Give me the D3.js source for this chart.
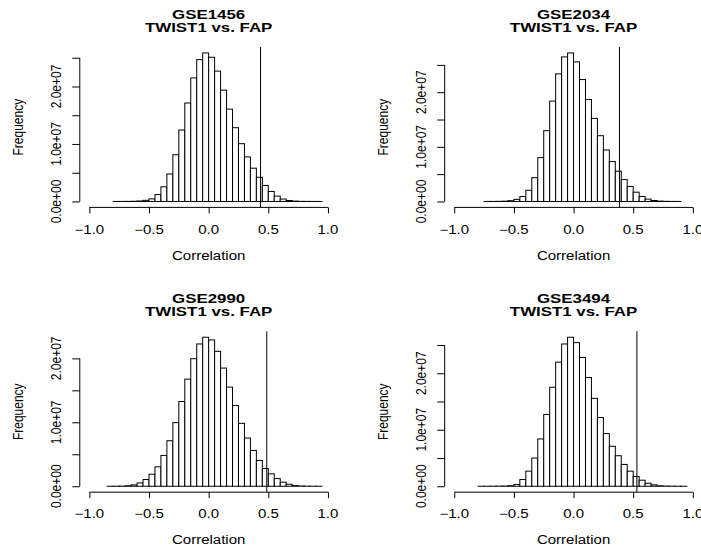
<!DOCTYPE html>
<html><head><meta charset="utf-8">
<script src="https://cdn.jsdelivr.net/npm/d3@7"></script>
<style>html,body{margin:0;padding:0;background:#fff;} svg{display:block;}</style>
</head><body>
<svg id="chart" width="701" height="548"></svg>
<script>
// ---------- data ----------
const datasets = ["GSE1456", "GSE2034", "GSE2990", "GSE3494"];
const subtitle = "TWIST1 vs. FAP";
const xLabel = "Correlation";
const yLabel = "Frequency";
const binWidth = 0.05;
const firstBreak = [-0.8, -0.75, -0.85, -0.8];
const unit = 1e6; // counts below are in millions
const counts1456 = [0.002, 0.004, 0.01, 0.03, 0.08, 0.2, 0.45, 1.2, 2.55, 4.78, 8.13, 12.43, 17.13, 21.49, 24.68, 25.84, 25.09, 22.68, 19.37, 16.06, 12.83, 10.05, 7.75, 5.79, 4.21, 2.79, 1.74, 0.93, 0.42, 0.17, 0.06, 0.02, 0.008, 0.003, 0.001];
const counts2034 = [0.002, 0.005, 0.02, 0.05, 0.14, 0.38, 0.91, 2.05, 4.35, 8.03, 12.96, 18.37, 23.36, 26.46, 27.19, 25.55, 22.32, 18.67, 15.21, 12.04, 9.43, 7.30, 5.54, 4.01, 2.74, 1.70, 0.91, 0.43, 0.18, 0.06, 0.02, 0.006, 0.002];
const counts2990 = [0.003, 0.008, 0.02, 0.08, 0.21, 0.52, 1.05, 1.88, 3.04, 4.82, 7.12, 9.95, 13.25, 16.75, 19.95, 22.25, 23.30, 22.88, 21.10, 18.48, 15.50, 12.62, 9.84, 7.54, 5.60, 4.03, 2.77, 1.94, 1.20, 0.63, 0.31, 0.10, 0.04, 0.015, 0.005, 0.002];
const counts3494 = [0.001, 0.003, 0.006, 0.015, 0.04, 0.1, 0.30, 1.19, 2.67, 4.99, 8.37, 12.71, 17.52, 21.97, 25.18, 26.37, 25.42, 22.80, 19.24, 15.56, 12.17, 9.32, 7.07, 5.40, 3.86, 2.67, 1.72, 1.07, 0.53, 0.24, 0.08, 0.03, 0.01, 0.004, 0.001];
const observed = [0.435, 0.385, 0.487, 0.531];
const xTicks = [-1, -0.5, 0, 0.5, 1];
const xTickLabels = ["\u22121.0", "\u22120.5", "0.0", "0.5", "1.0"];
const yTicks = [0, 5e6, 1e7, 1.5e7, 2e7, 2.5e7];
const yTickLabels = ["0.0e+00", "", "1.0e+07", "", "2.0e+07", ""];

const allCounts = [counts1456, counts2034, counts2990, counts3494];

// ---------- layout ----------
const SX = 1.25; // horizontal text stretch
const colLeft = [79.8, 444.7];
const plotW = 257.7;
const rowTop = [47, 331.3];
const rowBottom = [207.4, 492.2];
const rowOff = [0, 284.3];
const FONT = "'Liberation Sans', Arial, Helvetica, sans-serif";

const svg = d3.select("#chart");

function txt(g, s, x, y, opts) {
  const t = g.append("text")
    .attr("transform", `translate(${x},${y}) scale(${SX},1)` + (opts.rotate ? " rotate(-90)" : ""))
    .attr("text-anchor", "middle")
    .attr("font-family", FONT)
    .attr("font-size", opts.size)
    .attr("fill", "#000")
    .text(s);
  if (opts.bold) t.attr("font-weight", "bold");
  return t;
}

datasets.forEach((name, i) => {
  const col = i % 2, row = Math.floor(i / 2);
  const counts = allCounts[i].map(c => c * unit);
  const bins = counts.map((c, k) => ({
    lo: firstBreak[i] + k * binWidth,
    hi: firstBreak[i] + (k + 1) * binWidth,
    c
  }));
  const maxC = d3.max(counts);
  const left = colLeft[col], right = left + plotW;
  const top = rowTop[row], bottom = rowBottom[row];

  const x = d3.scaleLinear().domain([-1.08, 1.08]).range([left, right]);
  const y = d3.scaleLinear().domain([-0.04 * maxC, 1.04 * maxC]).range([bottom, top]);

  const g = svg.append("g");

  // bars
  g.selectAll("rect.bar").data(bins).enter().append("rect")
    .attr("class", "bar")
    .attr("x", d => x(d.lo))
    .attr("width", d => x(d.hi) - x(d.lo))
    .attr("y", d => y(d.c))
    .attr("height", d => y(0) - y(d.c))
    .attr("fill", "#fff")
    .attr("stroke", "#000")
    .attr("stroke-width", 1);

  // observed vertical line
  g.append("line")
    .attr("x1", x(observed[i])).attr("x2", x(observed[i]))
    .attr("y1", top).attr("y2", bottom)
    .attr("stroke", "#000").attr("stroke-width", 1);

  // x axis
  const xa = d3.axisBottom(x).tickValues(xTicks).tickSize(6).tickFormat("");
  const xg = g.append("g").attr("transform", `translate(0,${bottom})`).call(xa);
  xg.select(".domain").attr("d", `M${x(-1)},0H${x(1)}`).attr("stroke", "#000");
  xg.selectAll(".tick line").attr("stroke", "#000");
  xTicks.forEach((v, k) => txt(g, xTickLabels[k], x(v), 234 + rowOff[row], { size: 12 }));
  txt(g, xLabel, (left + right) / 2, 260 + rowOff[row], { size: 12 });

  // y axis
  const yt = yTicks.filter(v => v <= maxC);
  const ya = d3.axisLeft(y).tickValues(yt).tickSize(6 * SX).tickFormat("");
  const yg = g.append("g").attr("transform", `translate(${left},0)`).call(ya);
  yg.select(".domain").attr("d", `M0,${y(0)}V${y(d3.max(yt))}`).attr("stroke", "#000");
  yg.selectAll(".tick line").attr("stroke", "#000");
  yt.forEach(v => {
    const lab = yTickLabels[yTicks.indexOf(v)];
    if (lab) txt(g, lab, left - 18.5, y(v), { size: 12, rotate: true });
  });
  txt(g, yLabel, left - 56.5, (top + bottom) / 2, { size: 12, rotate: true });

  // titles
  const cx = (left + right) / 2;
  txt(g, name, cx, 19 + rowOff[row], { size: 13.5, bold: true });
  txt(g, subtitle, cx, 31.8 + rowOff[row], { size: 13.5, bold: true });
});
</script>
</body></html>
